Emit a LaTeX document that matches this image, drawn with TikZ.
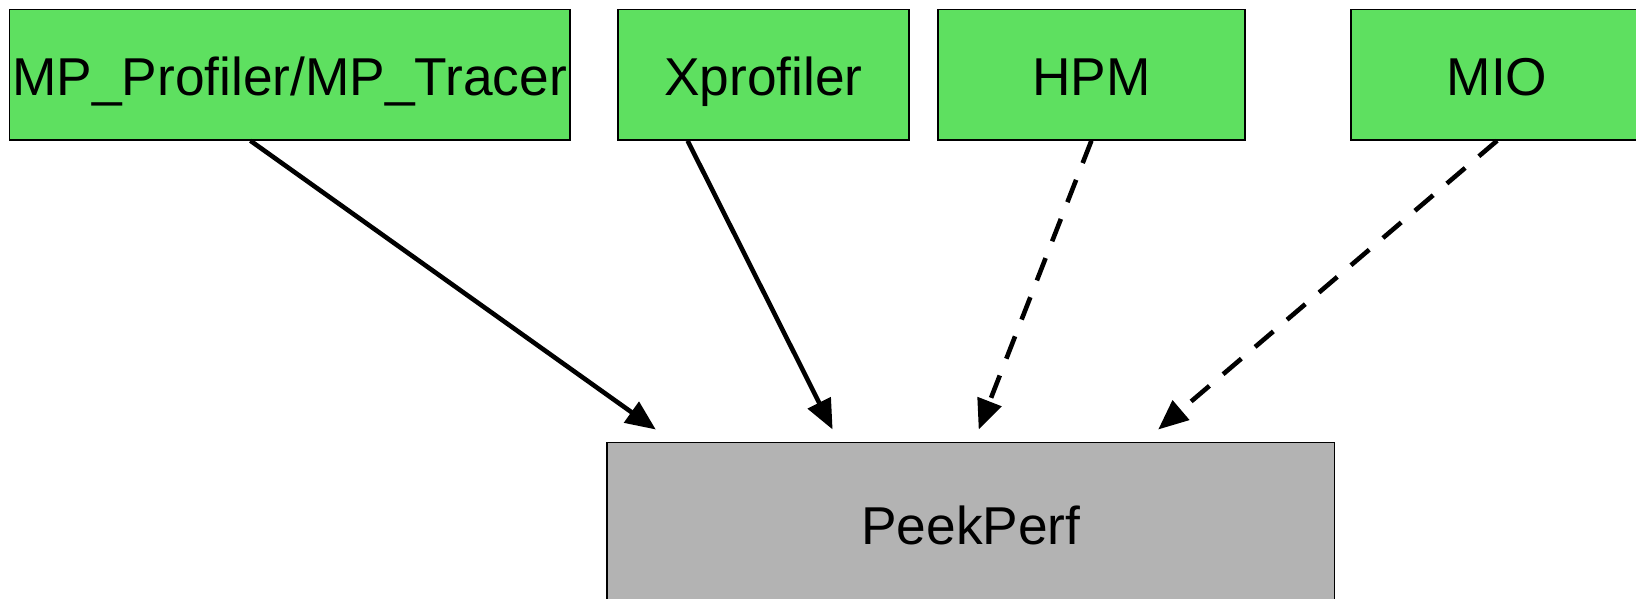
\documentclass[tikz,border=0pt]{standalone}
\usepackage{fontspec}
\setmainfont{Liberation Sans}
\usetikzlibrary{arrows.meta}
\definecolor{boxgreen}{RGB}{94,224,96}
\definecolor{boxgray}{RGB}{179,179,179}
\tikzset{
  basebox/.style={draw=black, line width=1.8pt, inner sep=0pt, text height=41pt, text depth=0pt, font=\fontsize{53.3}{60}\selectfont},
  srcbox/.style={basebox, fill=boxgreen, minimum height=130.4pt},
  sinkbox/.style={basebox, fill=boxgray, text height=38pt},
  conn/.style={line width=4.6pt, -{Triangle[length=30pt,width=25pt]}},
  dconn/.style={conn, dash pattern=on 24pt off 18pt},
}
\begin{document}
\begin{tikzpicture}[x=1pt,y=-1pt]
\useasboundingbox (0,0) rectangle (1636,598);
\clip (0,0) rectangle (1636,598);
\node[srcbox, minimum width=560.3pt] (mp) at (289.6,74.6) {MP\_Profiler/MP\_Tracer};
\node[srcbox, minimum width=291.1pt] (xp) at (763.3,74.6) {Xprofiler};
\node[srcbox, minimum width=306.8pt] (hpm) at (1091.4,74.6) {HPM};
\node[srcbox, minimum width=291.8pt] (mio) at (1497.1,74.6) {MIO};
\node[sinkbox, minimum width=727.2pt, minimum height=165.6pt] (pp) at (970.9,525.2) {PeekPerf};
\coordinate (t1) at (655.8,429.5);
\coordinate (t2) at (832.6,429.5);
\coordinate (t3) at (978.7,429.5);
\coordinate (t4) at (1158.2,429.5);
\draw[conn] ([xshift=-39.2pt]mp.south) -- (t1);
\draw[conn] ([xshift=-75.7pt]xp.south) -- (t2);
\draw[dconn] (hpm.south) -- (t3);
\draw[dconn] (mio.south) -- (t4);
\end{tikzpicture}
\end{document}
